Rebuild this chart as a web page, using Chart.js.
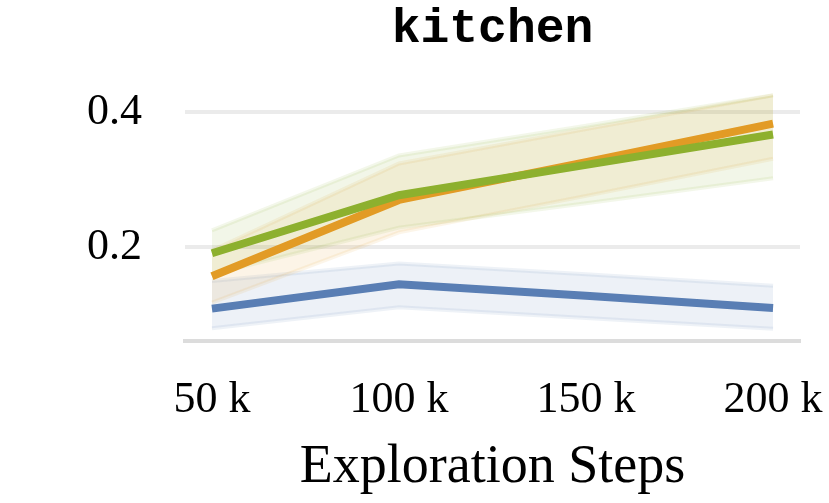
<!DOCTYPE html>
<html>
<head>
<meta charset="utf-8">
<script src="https://cdn.jsdelivr.net/npm/chart.js@4.4.0/dist/chart.umd.min.js"></script>
<style>
html,body{margin:0;padding:0;background:#fff;}
#wrap{width:829px;height:503px;}
</style>
</head>
<body>
<div id="wrap"><canvas id="c" width="829" height="503"></canvas></div>
<script>
// ---- data ----
const steps = [50, 100, 150, 200];
const xTickLabels = ['50 k', '100 k', '150 k', '200 k'];
const yTickValues = [0.2, 0.4];

const blueMean  = [0.109, 0.145, 0.128, 0.110];
const blueLow   = [0.080, 0.111, 0.095, 0.079];
const blueHigh  = [0.150, 0.176, 0.160, 0.143];

const orangeMean = [0.157, 0.270, 0.326, 0.383];
const orangeLow  = [0.118, 0.222, 0.276, 0.331];
const orangeHigh = [0.195, 0.324, 0.375, 0.425];

const greenMean = [0.191, 0.277, 0.322, 0.367];
const greenLow  = [0.160, 0.229, 0.265, 0.302];
const greenHigh = [0.225, 0.336, 0.380, 0.425];

const BLUE = [89, 126, 180];
const ORANGE = [226, 155, 37];
const GREEN = [141, 176, 46];

function rgba(c, a) { return `rgba(${c[0]},${c[1]},${c[2]},${a})`; }
function pts(arr) { return steps.map((s, i) => ({x: s, y: arr[i]})); }

function band(col, hi, lo, ord) {
  return [
    {data: pts(hi), borderColor: rgba(col, 0.10), borderWidth: 4, backgroundColor: rgba(col, 0.11),
     fill: '+1', pointRadius: 0, tension: 0, order: ord},
    {data: pts(lo), borderColor: rgba(col, 0.10), borderWidth: 4, backgroundColor: 'transparent',
     fill: false, pointRadius: 0, tension: 0, order: ord}
  ];
}
function line(col, arr, ord) {
  return {data: pts(arr), borderColor: rgba(col, 1), borderWidth: 8, borderCapStyle: 'butt',
    borderJoinStyle: 'miter', fill: false, pointRadius: 0, tension: 0, order: ord};
}

const datasets = [
  ...band(BLUE, blueHigh, blueLow, 10),
  ...band(ORANGE, orangeHigh, orangeLow, 9),
  ...band(GREEN, greenHigh, greenLow, 8),
  line(BLUE, blueMean, 3),
  line(ORANGE, orangeMean, 2),
  line(GREEN, greenMean, 1)
];

new Chart(document.getElementById('c'), {
  type: 'line',
  data: {datasets},
  options: {
    responsive: false,
    animation: false,
    devicePixelRatio: 1,
    layout: {padding: {left: 0, right: 29, top: 0, bottom: 0}},
    plugins: {
      legend: {display: false},
      tooltip: {enabled: false},
      title: {
        display: true,
        fullSize: false,
        text: 'kitchen',
        color: '#000',
        font: {family: 'Liberation Mono', size: 48, weight: 'bold', lineHeight: 1.2},
        padding: {top: 1, bottom: 30}
      }
    },
    scales: {
      x: {
        type: 'linear',
        min: 42.8, max: 207.2,
        afterBuildTicks: s => { s.ticks = steps.map(v => ({value: v})); },
        afterFit: s => { s.height = 162; s.paddingLeft = 0; s.paddingRight = 0; },
        ticks: {
          callback: (v) => xTickLabels[steps.indexOf(v)],
          color: '#000',
          font: {family: 'Liberation Serif', size: 44, lineHeight: 1.2},
          padding: 33,
          maxRotation: 0, autoSkip: false
        },
        grid: {display: false, drawTicks: false},
        border: {display: true, color: '#dcdcdc', width: 4},
        title: {
          display: true, text: 'Exploration Steps', color: '#000',
          font: {family: 'Liberation Serif', size: 54, lineHeight: 1.2},
          padding: {top: 0, bottom: 3}
        }
      },
      y: {
        type: 'linear',
        min: 0.061, max: 0.435,
        afterBuildTicks: s => { s.ticks = yTickValues.map(v => ({value: v})); },
        afterFit: s => { s.width = 185; s.paddingTop = 0; s.paddingBottom = 0; },
        ticks: {
          callback: v => v.toFixed(1),
          color: '#000',
          font: {family: 'Liberation Serif', size: 44, lineHeight: 1.2},
          padding: 43
        },
        grid: {color: '#ebebeb', lineWidth: 4, drawTicks: false},
        border: {display: false}
      }
    }
  }
});
</script>
</body>
</html>
